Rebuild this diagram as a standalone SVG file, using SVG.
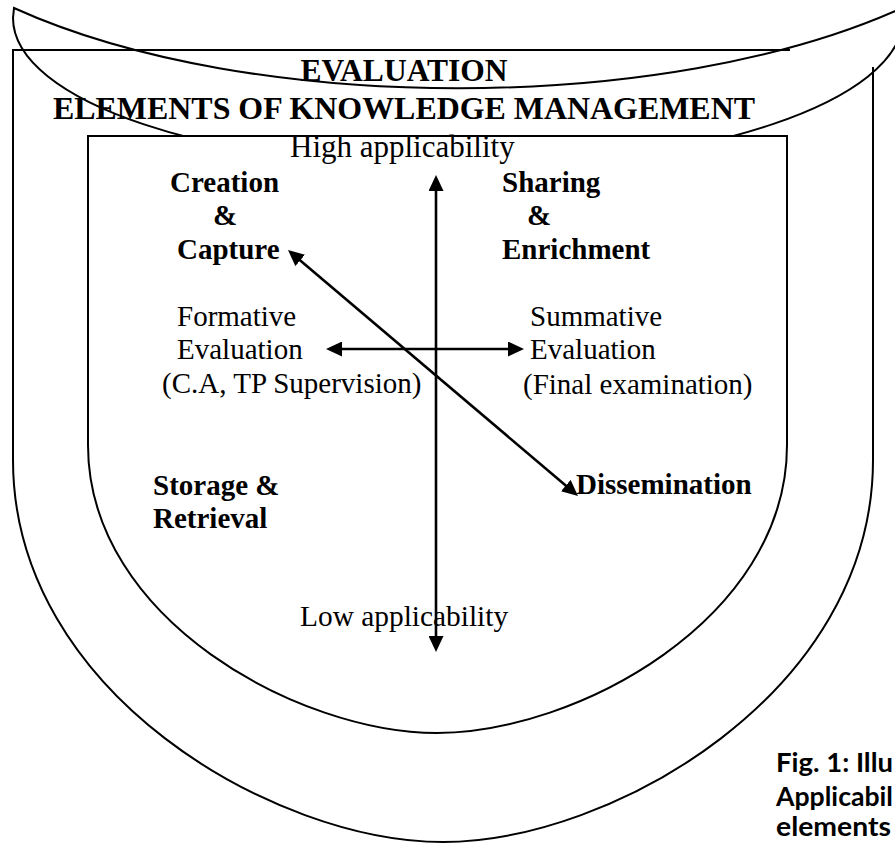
<svg xmlns="http://www.w3.org/2000/svg" width="895" height="844" viewBox="0 0 895 844">
<style>
.shape{fill:none;stroke:#000;stroke-width:2}
.white{fill:#fff;stroke:#000;stroke-width:2}
.conn{stroke:#000;stroke-width:2.6;fill:none}
.t{font-family:"Liberation Serif","Times New Roman",serif;fill:#000}
.b{font-weight:bold}
.cap{font-family:Lato,"Open Sans",sans-serif;font-weight:bold;fill:#000;font-size:26px}
</style>
<defs>
<marker id="ah" markerUnits="userSpaceOnUse" markerWidth="16" markerHeight="15" viewBox="0 0 16 15" refX="8" refY="7.5" orient="auto-start-reverse">
<path d="M0,0 L16,7.5 L0,15 Z" fill="#000"/>
</marker>
</defs>
<rect width="895" height="844" fill="#fff"/>
<g id="outer-frame">
<path class="shape" d="M790,50 L13,50 L13,460 C13,693 275,842 443,842 C611,842 873,693 873,460 L873,67"/>
</g>
<g id="banner">
<path class="shape" d="M14,8 C250,115 666,115 902,8 L903,18 C903,101 704,168 458,168 C212,168 13,101 13,18 Z"/>
</g>
<g id="inner-frame">
<path class="white" d="M88,136 L787,136 L787,445 C787,620 575,733 437,733 C300,733 88,620 88,445 Z"/>
</g>
<g id="title">
<text class="t b" x="404" y="81" font-size="31.5" text-anchor="middle">EVALUATION</text>
<text class="t b" x="53" y="119" font-size="31.5" textLength="702" lengthAdjust="spacingAndGlyphs">ELEMENTS OF KNOWLEDGE MANAGEMENT</text>
</g>
<g id="high-applicability"><text class="t" x="290" y="157" font-size="31">High applicability</text></g>
<g id="low-applicability"><text class="t" x="300" y="626" font-size="29.4">Low applicability</text></g>
<g id="creation-capture">
<text class="t b" x="170" y="192" font-size="29">Creation</text>
<text class="t b" x="213" y="225" font-size="29">&amp;</text>
<text class="t b" x="177" y="259" font-size="29">Capture</text>
</g>
<g id="sharing-enrichment">
<text class="t b" x="502" y="192" font-size="29">Sharing</text>
<text class="t b" x="527" y="225" font-size="29">&amp;</text>
<text class="t b" x="502" y="259" font-size="29">Enrichment</text>
</g>
<g id="formative">
<text class="t" x="177" y="326" font-size="29">Formative</text>
<text class="t" x="177" y="359" font-size="29">Evaluation</text>
<text class="t" x="162" y="393" font-size="29">(C.A, TP Supervision)</text>
</g>
<g id="summative">
<text class="t" x="530" y="326" font-size="29">Summative</text>
<text class="t" x="530" y="359" font-size="29">Evaluation</text>
<text class="t" x="523" y="394" font-size="29">(Final examination)</text>
</g>
<g id="storage-retrieval">
<text class="t b" x="153" y="495" font-size="29">Storage &amp;</text>
<text class="t b" x="153" y="528" font-size="29">Retrieval</text>
</g>
<g id="dissemination"><text class="t b" x="576" y="494" font-size="29">Dissemination</text></g>
<g id="connectors">
<line class="conn" x1="436" y1="183" x2="436" y2="644" marker-start="url(#ah)" marker-end="url(#ah)"/>
<line class="conn" x1="334" y1="349" x2="516" y2="349" marker-start="url(#ah)" marker-end="url(#ah)"/>
<line class="conn" x1="294.1" y1="255.2" x2="571.9" y2="490.8" marker-start="url(#ah)" marker-end="url(#ah)"/>
</g>
<g id="caption">
<text class="cap" x="776" y="772" textLength="117" lengthAdjust="spacingAndGlyphs">Fig. 1:  Illu</text>
<text class="cap" x="776" y="806" textLength="117" lengthAdjust="spacingAndGlyphs">Applicabil</text>
<text class="cap" x="776" y="836" textLength="115" lengthAdjust="spacingAndGlyphs">elements</text>
</g>
</svg>
